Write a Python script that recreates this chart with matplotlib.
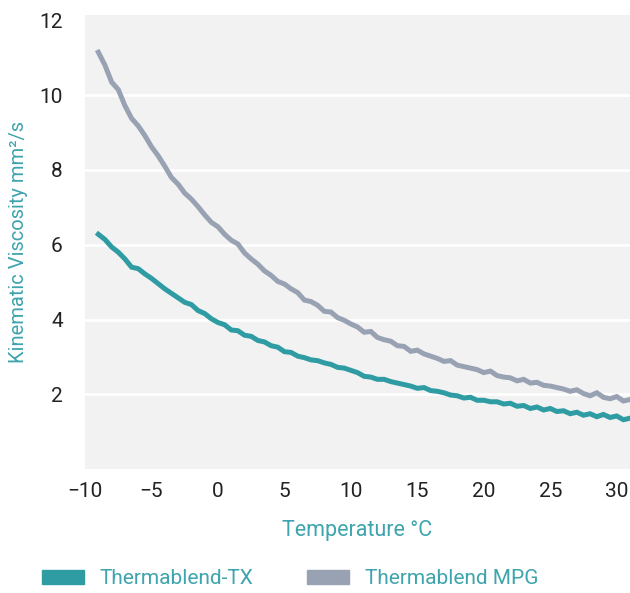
import matplotlib
matplotlib.use("Agg")
from matplotlib import pyplot as plt
from matplotlib.patches import Patch

# temperature grid (deg C)
temps = [-9.0 + 0.5 * i for i in range(81)]

# Thermablend MPG
mpg = [11.15, 10.80, 10.35, 10.15, 9.72, 9.38, 9.18, 8.92, 8.62, 8.38,
       8.10, 7.80, 7.62, 7.38, 7.22, 7.02, 6.80, 6.60, 6.48, 6.28,
       6.12, 6.02, 5.78, 5.62, 5.48, 5.30, 5.18, 5.02, 4.95, 4.82,
       4.72, 4.52, 4.48, 4.38, 4.22, 4.20, 4.05, 3.98, 3.88, 3.80,
       3.66, 3.68, 3.52, 3.46, 3.42, 3.30, 3.28, 3.15, 3.18, 3.08,
       3.02, 2.96, 2.88, 2.90, 2.78, 2.74, 2.70, 2.66, 2.58, 2.62,
       2.50, 2.46, 2.44, 2.36, 2.40, 2.30, 2.32, 2.24, 2.22, 2.18,
       2.14, 2.08, 2.12, 2.02, 1.96, 2.04, 1.92, 1.88, 1.94, 1.82,
       1.86]

# Thermablend-TX
tx = [6.28, 6.14, 5.94, 5.80, 5.62, 5.40, 5.36, 5.22, 5.10, 4.96,
      4.82, 4.70, 4.58, 4.46, 4.40, 4.24, 4.16, 4.02, 3.92, 3.86,
      3.72, 3.70, 3.58, 3.55, 3.44, 3.40, 3.30, 3.26, 3.14, 3.12,
      3.02, 2.98, 2.92, 2.90, 2.84, 2.80, 2.72, 2.70, 2.64, 2.58,
      2.48, 2.46, 2.40, 2.40, 2.34, 2.30, 2.26, 2.22, 2.16, 2.18,
      2.10, 2.08, 2.04, 1.98, 1.96, 1.90, 1.92, 1.84, 1.84, 1.80,
      1.80, 1.74, 1.76, 1.68, 1.70, 1.62, 1.66, 1.58, 1.62, 1.54,
      1.56, 1.48, 1.52, 1.44, 1.48, 1.40, 1.46, 1.38, 1.42, 1.32,
      1.36]

xticks = [-10, -5, 0, 5, 10, 15, 20, 25, 30]
yticks = [2, 4, 6, 8, 10, 12]
series_names = ["Thermablend-TX", "Thermablend MPG"]

TEAL = "#2f9ca4"
GREY = "#98a2b3"
LABEL = "#3ea4ad"
TEXT = "#222222"

plt.rcParams["font.family"] = ["Roboto", "DejaVu Sans"]

fig = plt.figure(figsize=(6.3, 5.93), dpi=100)
ax = fig.add_axes([0.135, 0.209, 0.865, 0.766])
ax.set_facecolor("#f2f2f2")

ax.plot(temps, tx, color=TEAL, lw=3.6, solid_joinstyle="miter", zorder=3)
ax.plot(temps, mpg, color=GREY, lw=3.6, solid_joinstyle="miter", zorder=3)

ax.set_xlim(-10, 31)
ax.set_ylim(0, 12.15)
ax.set_xticks(xticks)
ax.set_xticklabels([str(t).replace("-", "\u2212") for t in xticks])
ax.set_yticks(yticks)

ax.grid(axis="y", color="white", lw=2)
ax.yaxis.get_gridlines()[-1].set_visible(False)
ax.set_axisbelow(True)

for s in ax.spines.values():
    s.set_visible(False)
ax.tick_params(axis="both", length=0, labelsize=15, labelcolor=TEXT)
ax.tick_params(axis="y", pad=16)
ax.tick_params(axis="x", pad=9)

ax.set_xlabel("Temperature \u00b0C", color=LABEL, fontsize=15.5, labelpad=14)
ax.set_ylabel("Kinematic Viscosity mm\u00b2/s", color=LABEL, fontsize=14.5, labelpad=8)

handles = [Patch(color=TEAL), Patch(color=GREY)]
leg = fig.legend(handles, series_names, loc="center left", ncol=2,
                 bbox_to_anchor=(0.0667, 0.024), frameon=False,
                 fontsize=15, handlelength=2.0, handleheight=0.6,
                 handletextpad=0.75, columnspacing=2.6,
                 borderpad=0, borderaxespad=0)
for t in leg.get_texts():
    t.set_color(LABEL)

fig.savefig("out.png", dpi=100)
